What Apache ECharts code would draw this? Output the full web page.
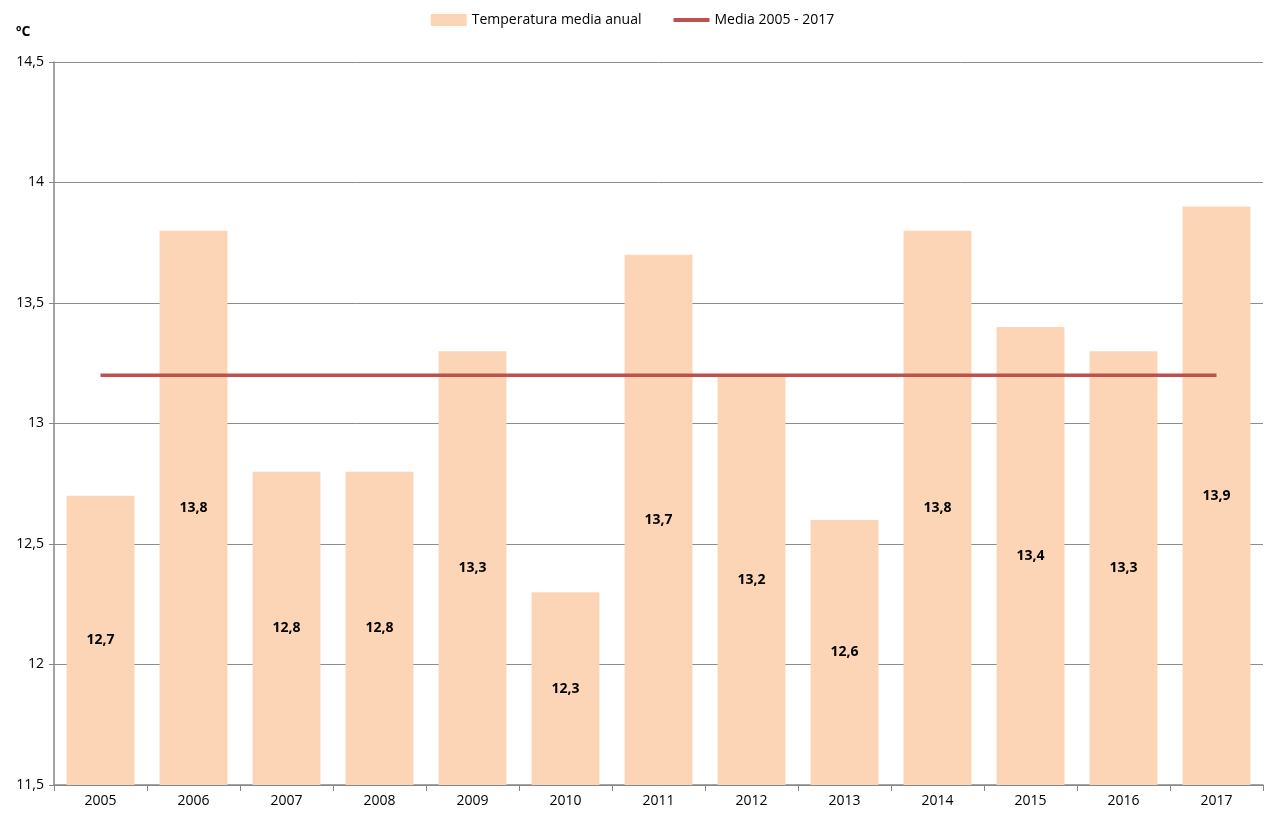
<!DOCTYPE html>
<html>
<head>
    <meta charset="utf-8"/>
    <title>Temperatura media anual</title>
    <script src="https://cdn.jsdelivr.net/npm/echarts@6/dist/echarts.min.js"></script>
</head>
<body style="margin:0">
<div id="main" style="width: 1265px; height: 820px;"></div>
<script type="text/javascript">
    // datos
    var years = ['2005', '2006', '2007', '2008', '2009', '2010', '2011', '2012', '2013', '2014', '2015', '2016', '2017'];
    var tempMedia = [12.7, 13.8, 12.8, 12.8, 13.3, 12.3, 13.7, 13.2, 12.6, 13.8, 13.4, 13.3, 13.9];
    var mediaPeriodo = [13.2, 13.2, 13.2, 13.2, 13.2, 13.2, 13.2, 13.2, 13.2, 13.2, 13.2, 13.2, 13.2];

    function coma(v) {
        return String(v).replace('.', ',');
    }

    var chart = echarts.init(document.getElementById('main'));
    var option = {
        backgroundColor: '#ffffff',
        animation: false,
        textStyle: {fontFamily: 'Open Sans'},
        title: {
            text: 'ºC',
            left: 11,
            top: 20,
            textStyle: {fontSize: 14, fontWeight: 'bold', color: '#000'}
        },
        legend: {
            top: 8,
            left: 'center',
            itemGap: 30,
            itemWidth: 36,
            itemHeight: 12,
            textStyle: {fontSize: 14, color: '#000'},
            data: [
                {name: 'Temperatura media anual', icon: 'rect'},
                {name: 'Media 2005 - 2017', itemStyle: {opacity: 0}, lineStyle: {width: 4, color: '#C0504D'}}
            ]
        },
        grid: {left: 54, right: 2, top: 62, bottom: 35, containLabel: false},
        xAxis: {
            type: 'category',
            data: years,
            axisLine: {lineStyle: {color: '#868686', width: 1.5}},
            axisTick: {show: true, length: 6, lineStyle: {color: '#868686'}},
            axisLabel: {color: '#000', fontSize: 14, margin: 9}
        },
        yAxis: {
            type: 'value',
            min: 11.5,
            max: 14.5,
            interval: 0.5,
            axisLine: {show: true, lineStyle: {color: '#868686', width: 1.5}},
            axisTick: {show: true, length: 5, lineStyle: {color: '#868686'}},
            axisLabel: {color: '#000', fontSize: 14, margin: 10, formatter: coma},
            splitLine: {lineStyle: {color: '#8c8c8c', width: 1}}
        },
        series: [
            {
                name: 'Temperatura media anual',
                type: 'bar',
                data: tempMedia,
                barCategoryGap: '27%',
                itemStyle: {color: '#FBD5B5'},
                label: {
                    show: true,
                    position: 'inside',
                    color: '#000',
                    fontWeight: 'bold',
                    fontSize: 14,
                    formatter: function (p) { return coma(p.value); }
                }
            },
            {
                name: 'Media 2005 - 2017',
                type: 'line',
                data: mediaPeriodo,
                symbol: 'none',
                lineStyle: {color: '#C0504D', width: 3.5},
                itemStyle: {color: '#C0504D'}
            }
        ]
    };
    chart.setOption(option);
</script>
</body>
</html>
